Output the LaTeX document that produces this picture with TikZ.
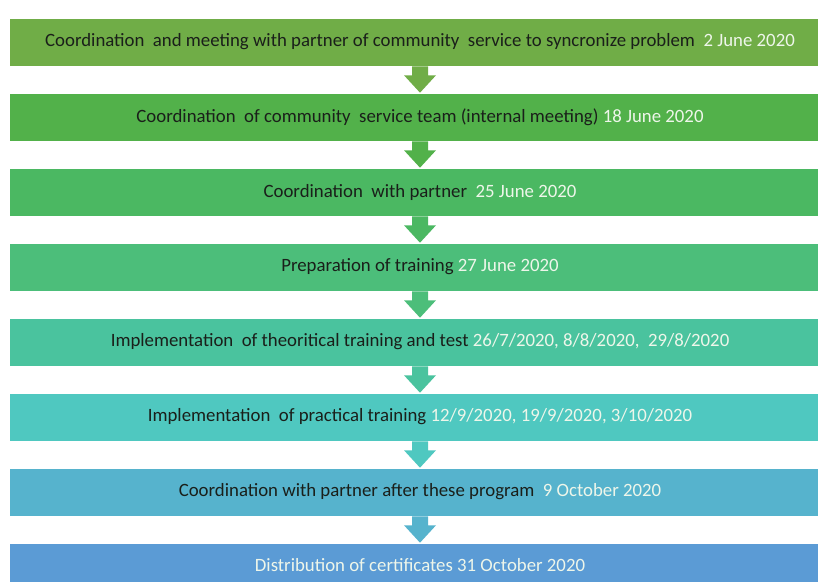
\documentclass[tikz,border=0pt]{standalone}
\usepackage{fontspec}
\setmainfont{Carlito}
\definecolor{c1}{HTML}{70AD47}
\definecolor{c2}{HTML}{52B14A}
\definecolor{c3}{HTML}{4BB862}
\definecolor{c4}{HTML}{4CBE7A}
\definecolor{c5}{HTML}{4AC39E}
\definecolor{c6}{HTML}{4FC8C0}
\definecolor{c7}{HTML}{56B3CD}
\definecolor{c8}{HTML}{5B9BD5}
\definecolor{txt}{HTML}{1A1F1A}
\definecolor{datecol}{HTML}{EEF6EA}
\newcommand\datetxt[1]{\textcolor{datecol}{#1}}
\newcommand\flowarrow[3]{\fill[#1] ([xshift=-8pt]#2.south) -- ([xshift=-8pt,yshift=-9pt]#2.south) -- ([xshift=-16pt,yshift=-9pt]#2.south) -- (#3.north) -- ([xshift=16pt,yshift=-9pt]#2.south) -- ([xshift=8pt,yshift=-9pt]#2.south) -- ([xshift=8pt]#2.south) -- cycle;}
\begin{document}
\begin{tikzpicture}[x=1pt,y=-1pt]
\useasboundingbox (0,0) rectangle (818,581);
\clip (0,0) rectangle (818,581);
\tikzset{box/.style={rectangle, minimum width=822pt, minimum height=48pt, inner sep=0pt, draw=white, line width=0.6pt, font=\fontsize{18.8}{21}\selectfont, text=txt}}
\node[box, fill=c1] (b1) at (420,42) {Coordination\ \ and meeting with partner of community\ \ service to syncronize problem\ \ \datetxt{2 June 2020}};
\node[box, fill=c2] (b2) at (420,117) {Coordination\ \ of community\ \ service team (internal meeting) \datetxt{18 June 2020}};
\node[box, fill=c3] (b3) at (420,192) {Coordination\ \ with partner\ \ \datetxt{25 June 2020}};
\node[box, fill=c4] (b4) at (420,267) {Preparation of training \datetxt{27 June 2020}};
\node[box, fill=c5] (b5) at (420,342) {Implementation\ \ of theoritical training and test \datetxt{26/7/2020, 8/8/2020,\ \ 29/8/2020}};
\node[box, fill=c6] (b6) at (420,417) {Implementation\ \ of practical training \datetxt{12/9/2020, 19/9/2020, 3/10/2020}};
\node[box, fill=c7] (b7) at (420,492) {Coordination with partner after these program\ \ \datetxt{9 October 2020}};
\node[box, fill=c8, text=datecol, text depth=4pt] (b8) at (420,567) {Distribution of certificates 31 October 2020};
\flowarrow{c1}{b1}{b2}
\flowarrow{c2}{b2}{b3}
\flowarrow{c3}{b3}{b4}
\flowarrow{c4}{b4}{b5}
\flowarrow{c5}{b5}{b6}
\flowarrow{c6}{b6}{b7}
\flowarrow{c7}{b7}{b8}
\end{tikzpicture}
\end{document}
